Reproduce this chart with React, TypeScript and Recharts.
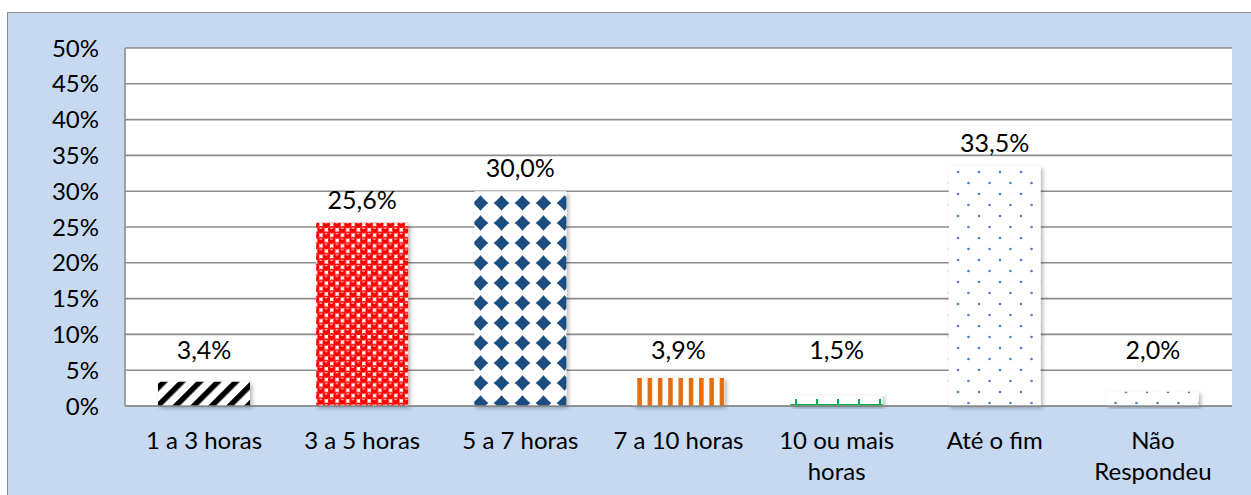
import { Bar, BarChart, CartesianGrid, Cell, LabelList, XAxis, YAxis } from 'recharts'

const categories = ['1 a 3 horas', '3 a 5 horas', '5 a 7 horas', '7 a 10 horas', '10 ou mais horas', 'Até o fim', 'Não Respondeu']
const tickLines = [['1 a 3 horas'], ['3 a 5 horas'], ['5 a 7 horas'], ['7 a 10 horas'], ['10 ou mais', 'horas'], ['Até o fim'], ['Não', 'Respondeu']]
const values = [3.4, 25.6, 30.0, 3.9, 1.5, 33.5, 2.0]
const yTicks = [0, 5, 10, 15, 20, 25, 30, 35, 40, 45, 50]
const fills = ['url(#stripes)', 'url(#balls)', 'url(#diamonds)', 'url(#vlines)', 'url(#plus)', 'url(#dots)', 'url(#dots)']

const data = categories.map((name, i) => ({ name, value: values[i] }))

const FONT = 'Lato, "Open Sans", sans-serif'
const GRID = '#8c8c8c'

function XTick({ x, y, index }: any) {
  const lines = tickLines[index] || []
  return (
    <text x={x} y={y} textAnchor="middle" fontFamily={FONT} fontSize={24} fill="#000">
      {lines.map((l, i) => (
        <tspan key={i} x={x} dy={i === 0 ? 35 : 31}>{l}</tspan>
      ))}
    </text>
  )
}

function ValueLabel({ x, y, width, height, value }: any) {
  const base = y + height
  const ly = Math.min(y - 14, base - 47)
  return (
    <text x={x + width / 2} y={ly} textAnchor="middle" fontFamily={FONT} fontSize={25} fill="#000">
      {String(Number(value).toFixed(1)).replace('.', ',') + '%'}
    </text>
  )
}

export default function App() {
  return (
    <div style={{ position: 'fixed', left: 7, top: 12, width: 1260, height: 490, background: '#c6d9f0', border: '1px solid #8c8c8c' }}>
      <BarChart width={1258} height={488} data={data} margin={{ top: 35, right: 34, left: 0, bottom: 0 }} barSize={92}>
        <defs>
          <pattern id="stripes" width="12.7" height="12.7" patternUnits="userSpaceOnUse" patternTransform="rotate(45)">
            <rect width="12.7" height="12.7" fill="#fff" />
            <rect width="5.5" height="12.7" fill="#000" />
          </pattern>
          <pattern id="balls" width="10.7" height="10.7" patternUnits="userSpaceOnUse">
            <rect width="10.7" height="10.7" fill="#fff" />
            {[[2.7, 2.7], [8.05, 8.05], [13.4, 2.7], [2.7, 13.4], [13.4, 13.4], [-2.65, -2.65], [-2.65, 8.05], [8.05, -2.65]].map(([cx, cy], i) => (
              <circle key={i} cx={cx} cy={cy} r={3.75} fill="#ff0000" />
            ))}
            <ellipse cx="2.5" cy="1.3" rx="1.5" ry="0.7" fill="#ffc8c8" />
            <ellipse cx="7.85" cy="6.65" rx="1.5" ry="0.7" fill="#ffc8c8" />
          </pattern>
          <pattern id="diamonds" width="21" height="20" patternUnits="userSpaceOnUse">
            <rect width="21" height="20" fill="#fff" />
            <path d="M10.5 2 Q12.5 6.5 18.5 10 Q12.5 13.5 10.5 18 Q8.5 13.5 2.5 10 Q8.5 6.5 10.5 2 Z" fill="#1f4e80" />
            <path d="M10.5 4 L16.5 10 L10.5 16 L4.5 10 Z" fill="#1f4e80" stroke="#1f4e80" strokeWidth="2" strokeLinejoin="round" />
          </pattern>
          <pattern id="vlines" width="10.3" height="10" patternUnits="userSpaceOnUse">
            <rect width="10.3" height="10" fill="#fff" />
            <rect x="1" width="4.5" height="10" fill="#e46c0a" />
          </pattern>
          <pattern id="plus" width="21" height="11" patternUnits="userSpaceOnUse">
            <rect width="21" height="11" fill="#fff" />
            <rect y="6" width="21" height="2" fill="#00b050" />
            <rect x="10" y="1" width="2" height="6" fill="#00b050" />
          </pattern>
          <pattern id="dots" width="21" height="22" patternUnits="userSpaceOnUse">
            <rect width="21" height="22" fill="#fff" />
            <circle cx="5" cy="5" r="1.3" fill="#4f81bd" />
            <circle cx="15.5" cy="16" r="1.3" fill="#4f81bd" />
          </pattern>
          <filter id="shadow" x="-10%" y="-10%" width="130%" height="130%">
            <feDropShadow dx="2" dy="2" stdDeviation="2" floodColor="#000" floodOpacity="0.3" />
          </filter>
        </defs>
        <CartesianGrid vertical={false} stroke={GRID} strokeWidth={1.6} fill="#fff" />
        <XAxis dataKey="name" height={95} axisLine={{ stroke: GRID, strokeWidth: 1.6 }} tickLine={false} interval={0} tick={<XTick />} />
        <YAxis
          width={117}
          domain={[0, 50]}
          ticks={yTicks}
          interval={0}
          axisLine={{ stroke: GRID, strokeWidth: 1.6 }}
          tickLine={false}
          tickMargin={20}
          tickFormatter={(v: number) => `${v}%`}
          tick={{ fontFamily: FONT, fontSize: 24, fill: '#000' }}
        />
        <Bar dataKey="value" isAnimationActive={false} filter="url(#shadow)">
          {data.map((_, i) => (
            <Cell key={i} fill={fills[i]} />
          ))}
          <LabelList dataKey="value" content={<ValueLabel />} />
        </Bar>
      </BarChart>
    </div>
  )
}
